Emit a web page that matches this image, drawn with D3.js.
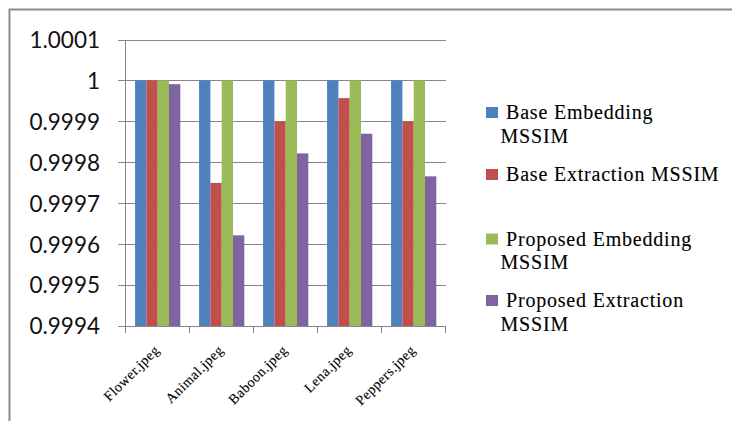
<!DOCTYPE html>
<html>
<head>
<meta charset="utf-8">
<script src="https://cdn.jsdelivr.net/npm/d3@7"></script>
<style>
  html, body { margin: 0; padding: 0; background: #fff; }
  svg { display: block; }
  .serif { font-family: "Liberation Serif", Tinos, "Times New Roman", Times, serif; stroke: #000; stroke-width: 0.12px; }
</style>
</head>
<body>
<svg id="chart" width="732" height="421"></svg>
<script>
// Images tested
const images = ["Flower.jpeg", "Animal.jpeg", "Baboon.jpeg", "Lena.jpeg", "Peppers.jpeg"];

// Series names (legend order)
const seriesNames = [
  "Base Embedding MSSIM",
  "Base Extraction MSSIM",
  "Proposed Embedding MSSIM",
  "Proposed Extraction MSSIM"
];

// MSSIM per image for each series
const baseEmbedding      = [1, 1, 1, 1, 1];
const baseExtraction     = [1, 0.99975, 0.9999, 0.999957, 0.9999];
const proposedEmbedding  = [1, 1, 1, 1, 1];
const proposedExtraction = [0.999991, 0.999622, 0.999822, 0.99987, 0.999766];

// Value axis ticks and their labels
const yTicks      = [0.9994, 0.9995, 0.9996, 0.9997, 0.9998, 0.9999, 1, 1.0001];
const yTickLabels = ["0.9994", "0.9995", "0.9996", "0.9997", "0.9998", "0.9999", "1", "1.0001"];

const colors = ["#4F81BD", "#C0504D", "#9BBB59", "#8064A2"];
const seriesValues = [baseEmbedding, baseExtraction, proposedEmbedding, proposedExtraction];

const svg = d3.select("#chart");
const gridColor = "#868686";

// Outer chart frame (top and left edges visible)
svg.append("path")
  .attr("d", "M9.5,430 L9.5,9.5 L740,9.5")
  .attr("fill", "none")
  .attr("stroke", "#8c8c8c")
  .attr("stroke-width", 2);

const plot = { left: 125.7, right: 445.7, top: 39.5, bottom: 326.3 };

const y = d3.scaleLinear()
  .domain([yTicks[0], yTicks[yTicks.length - 1]])
  .range([plot.bottom, plot.top]);

const x0 = d3.scaleBand()
  .domain(images)
  .range([plot.left, plot.right])
  .padding(0);

const x1 = d3.scaleBand()
  .domain(d3.range(seriesNames.length))
  .range([0, x0.bandwidth()])
  .paddingInner(0)
  .paddingOuter(0.83);

// Horizontal gridlines with left tick marks
const yAxis = d3.axisLeft(y)
  .tickValues(yTicks)
  .tickSize(plot.right - plot.left + 8)
  .tickFormat((d, i) => yTickLabels[i]);

const gy = svg.append("g")
  .attr("transform", `translate(${plot.right},0)`)
  .call(yAxis);
gy.select(".domain").remove();
gy.selectAll(".tick line")
  .attr("stroke", gridColor)
  .attr("stroke-width", 1)
  .attr("shape-rendering", "crispEdges");
gy.selectAll(".tick text")
  .attr("x", -(plot.right - 100))
  .attr("dy", "0.34em")
  .attr("fill", "#111")
  .style("font-family", "Lato, 'Open Sans', sans-serif")
  .style("font-size", "22.5px");

// Bars
const groups = svg.append("g")
  .selectAll("g")
  .data(images)
  .join("g")
  .attr("transform", d => `translate(${x0(d)},0)`);

groups.selectAll("rect")
  .data((d, i) => seriesValues.map((vals, s) => ({ s, v: vals[i] })))
  .join("rect")
  .attr("x", d => x1(d.s))
  .attr("width", x1.bandwidth())
  .attr("y", d => y(d.v))
  .attr("height", d => y(yTicks[0]) - y(d.v))
  .attr("fill", d => colors[d.s]);

// Value axis line
svg.append("line")
  .attr("x1", plot.left).attr("x2", plot.left)
  .attr("y1", plot.top).attr("y2", plot.bottom)
  .attr("stroke", gridColor)
  .attr("shape-rendering", "crispEdges");

// Category axis with ticks at category boundaries
const boundaries = images.map(d => x0(d)).concat([plot.right]);
svg.append("line")
  .attr("x1", plot.left).attr("x2", plot.right)
  .attr("y1", plot.bottom).attr("y2", plot.bottom)
  .attr("stroke", gridColor)
  .attr("shape-rendering", "crispEdges");
svg.append("g")
  .selectAll("line")
  .data(boundaries)
  .join("line")
  .attr("x1", d => d).attr("x2", d => d)
  .attr("y1", plot.bottom).attr("y2", plot.bottom + 7)
  .attr("stroke", gridColor)
  .attr("shape-rendering", "crispEdges");

// Rotated category labels
svg.append("g")
  .selectAll("text")
  .data(images)
  .join("text")
  .attr("class", "serif")
  .attr("transform", d => `translate(${x0(d) + x0.bandwidth() / 2 + 2.5},351) rotate(-45)`)
  .attr("text-anchor", "end")
  .attr("fill", "#000")
  .style("font-size", "14px")
  .style("letter-spacing", "0.5px")
  .text(d => d);

// Legend
const legendItems = [
  { lines: ["Base Embedding", "MSSIM"], y: 119 },
  { lines: ["Base Extraction MSSIM"], y: 181 },
  { lines: ["Proposed Embedding", "MSSIM"], y: 245.5 },
  { lines: ["Proposed Extraction", "MSSIM"], y: 307 }
];

const legend = svg.append("g");
legendItems.forEach((item, i) => {
  legend.append("rect")
    .attr("x", 486)
    .attr("y", item.y - 12)
    .attr("width", 12)
    .attr("height", 11)
    .attr("fill", colors[i]);
  item.lines.forEach((line, j) => {
    legend.append("text")
      .attr("class", "serif")
      .attr("x", j === 0 ? 506 : 500.5)
      .attr("y", item.y + j * 23.5)
      .attr("fill", "#000")
      .style("font-size", "20px")
      .style("letter-spacing", "0.8px")
      .text(line);
  });
});
</script>
</body>
</html>
